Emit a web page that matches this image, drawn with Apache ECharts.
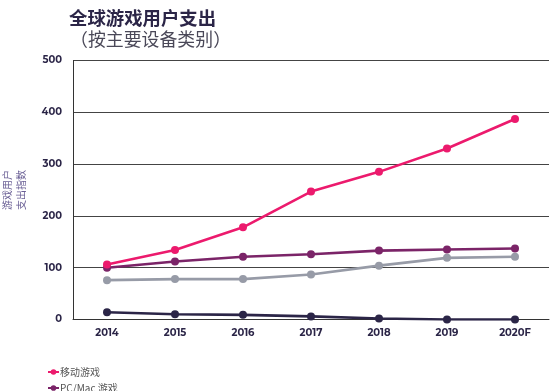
<!DOCTYPE html>
<html><head><meta charset="utf-8">
<script src="https://cdn.jsdelivr.net/npm/echarts@6/dist/echarts.min.js"></script>
<style>html,body{margin:0;padding:0;background:#fff}#c{width:554px;height:391px}</style>
</head><body><div id="c"></div>
<script>
const categories = ['2014','2015','2016','2017','2018','2019','2020F'];
const seriesNames = ['移动游戏','PC/Mac 游戏','主机游戏','网页游戏'];
const mobile = [106, 134, 178, 247, 285, 330, 387];
const pcMac = [100, 112, 121, 126, 133, 135, 137];
const consoleG = [76, 78, 78, 87, 104, 119, 121];
const browser = [14, 10, 9, 6, 2, 0, 0];
const yTicks = [0, 100, 200, 300, 400, 500];

const colors = ['#ec1a6d', '#7b2468', '#979ba7', '#2b2547'];
const dataSets = [mobile, pcMac, consoleG, browser];
const FONT = 'Montserrat, "Noto Sans CJK SC", "DejaVu Sans", sans-serif';

const chart = echarts.init(document.getElementById('c'));
chart.setOption({
  animation: false,
  title: [
    {text: '全球游戏用户支出', left: 64, top: 4, textStyle: {fontFamily: '"Noto Sans CJK SC"', fontSize: 18.4, fontWeight: 'bold', color: '#2b2547'}},
    {text: '（按主要设备类别）', left: 65, top: 25, textStyle: {fontFamily: '"Noto Sans CJK SC"', fontSize: 17.9, fontWeight: 'normal', color: '#4a4858'}}
  ],
  grid: {left: 73, right: 5, top: 60.5, bottom: 71.5, containLabel: false, outerBoundsMode: 'none'},
  legend: {
    type: 'plain', orient: 'vertical', left: 42, top: 362, height: 120, itemGap: 6, itemWidth: 11, itemHeight: 7,
    data: seriesNames,
    textStyle: {fontFamily: '"Noto Sans CJK SC"', fontSize: 10, color: '#555', padding: [0, 0, 0, -4]}
  },
  xAxis: {
    type: 'category', data: categories, boundaryGap: true,
    axisLine: {show: true, lineStyle: {color: '#333', width: 1}},
    axisTick: {show: false},
    axisLabel: {fontFamily: FONT, fontSize: 10, fontWeight: 'bold', color: '#2b2547', margin: 9}
  },
  yAxis: {
    type: 'value', min: yTicks[0], max: yTicks[yTicks.length-1], interval: 100,
    name: '游戏用户\n支出指数', nameLocation: 'middle', nameRotate: 90, nameGap: 45,
    nameTextStyle: {fontFamily: '"Noto Sans CJK SC"', fontSize: 10, color: '#6a5f95', lineHeight: 14},
    axisLine: {show: true, lineStyle: {color: '#333', width: 1}},
    axisTick: {show: false},
    splitLine: {show: true, lineStyle: {color: '#444', width: 1}},
    axisLabel: {fontFamily: FONT, fontSize: 10, fontWeight: 'bold', color: '#2b2547', margin: 11}
  },
  series: seriesNames.map((n, i) => ({
    name: n, type: 'line', data: dataSets[i],
    symbol: 'circle', symbolSize: 8,
    lineStyle: {width: 2.6, color: colors[i]},
    itemStyle: {color: colors[i]},
    z: 10 - i
  }))
});
</script></body></html>
